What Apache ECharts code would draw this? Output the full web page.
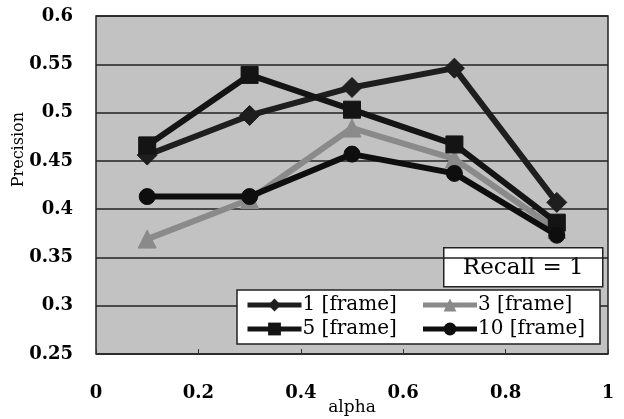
<!DOCTYPE html>
<html>
<head>
<meta charset="utf-8">
<script src="https://cdn.jsdelivr.net/npm/echarts@6/dist/echarts.min.js"></script>
<style>html,body{margin:0;padding:0;background:#fff}#c{width:624px;height:419px}</style>
</head>
<body>
<div id="c"></div>
<script>
var alphas = [0.1, 0.3, 0.5, 0.7, 0.9];
var names = ['1 [frame]', '3 [frame]', '5 [frame]', '10 [frame]'];
var frame1 = [0.456, 0.497, 0.526, 0.546, 0.407];
var frame3 = [0.369, 0.41, 0.484, 0.452, 0.379];
var frame5 = [0.466, 0.539, 0.503, 0.467, 0.386];
var frame10 = [0.413, 0.413, 0.457, 0.437, 0.373];
var xTicks = [0, 0.2, 0.4, 0.6, 0.8, 1];
var yTicks = [0.25, 0.3, 0.35, 0.4, 0.45, 0.5, 0.55, 0.6];

function pairs(vals){ return alphas.map(function(a,i){ return [a, vals[i]]; }); }
var serif = 'DejaVu Serif';
function fmt(v){ return String(+v.toFixed(2)); }
function mk(name, vals, color, symbol, size){
  return {
    name: name, type: 'line', data: pairs(vals),
    symbol: symbol, symbolSize: size,
    lineStyle: {color: color, width: 6},
    itemStyle: {color: color, borderColor: color},
    emphasis: {disabled: true}
  };
}
var chart = echarts.init(document.getElementById('c'));
chart.setOption({
  animation: false,
  grid: {left: 96, right: 16, top: 16, bottom: 65, outerBoundsMode: 'none', containLabel: false,
    show: true, backgroundColor: '#c2c2c2', borderColor: '#222', borderWidth: 1.5},
  xAxis: {
    type: 'value', min: 0, max: 1, interval: 0.2,
    name: 'alpha', nameLocation: 'middle', nameGap: 45, nameMoveOverlap: false,
    nameTextStyle: {fontFamily: serif, fontSize: 17, color: '#000'},
    axisLine: {show: false}, splitLine: {show: false},
    axisTick: {show: true, inside: true, length: 5, lineStyle: {color: '#333'}},
    axisLabel: {margin: 30, fontFamily: serif, fontWeight: 'bold', fontSize: 18, color: '#000', formatter: fmt}
  },
  yAxis: {
    type: 'value', min: 0.25, max: 0.6, interval: 0.05,
    axisLine: {show: false}, axisTick: {show: false},
    splitLine: {show: true, lineStyle: {color: '#222', width: 1.5}},
    axisLabel: {margin: 23, fontFamily: serif, fontWeight: 'bold', fontSize: 18, color: '#000', formatter: fmt}
  },
  legend: {
    data: names, left: 237, top: 290, width: 356, orient: 'horizontal',
    itemWidth: 54, itemHeight: 16, itemGap: 2,
    backgroundColor: '#fff', borderColor: '#222', borderWidth: 1.5, borderRadius: 0,
    padding: [4, 6, 4, 8],
    lineStyle: {width: 5},
    textStyle: {fontFamily: serif, fontSize: 20, color: '#000', width: 116, lineHeight: 22, padding: [0,0,0,-4]}
  },
  graphic: [{
    type: 'group', left: 443, top: 247,
    children: [
      {type: 'rect', shape: {x: 0, y: 0, width: 159, height: 39}, style: {fill: '#fff', stroke: '#222', lineWidth: 1.5}},
      {type: 'text', style: {x: 79.5, y: 20, text: 'Recall = 1', fill: '#000', font: '23px "DejaVu Serif"', textAlign: 'center', textVerticalAlign: 'middle'}}
    ]
  }, {
    type: 'text', left: 11, top: 112,
    style: {text: 'Precision', fill: '#000', font: '16px "DejaVu Serif"'},
    rotation: Math.PI / 2
  }],
  series: [
    mk(names[0], frame1, '#1e1e1e', 'diamond', 20),
    mk(names[1], frame3, '#8a8a8a', 'triangle', 18),
    mk(names[2], frame5, '#141414', 'rect', 17),
    mk(names[3], frame10, '#0e0e0e', 'circle', 16)
  ]
});
</script>
</body>
</html>
